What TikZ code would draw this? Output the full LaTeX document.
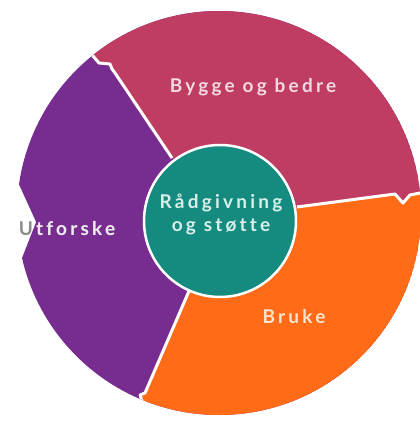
\documentclass[tikz,border=0pt]{standalone}
\usepackage{fontspec}
\newfontfamily\lbl[LetterSpace=17, Ligatures=NoCommon]{Lato}
\definecolor{cpurple}{HTML}{772C8F}
\definecolor{ccrimson}{HTML}{BF3D63}
\definecolor{corange}{HTML}{FF6B17}
\definecolor{cteal}{HTML}{158B80}
\definecolor{tcrimson}{HTML}{F5D8E2}
\definecolor{tteal}{HTML}{D8EFEA}
\definecolor{torange}{HTML}{FCE4CE}
\definecolor{tpurple}{HTML}{F2E8F5}
\definecolor{tgray}{HTML}{8C8C8C}
\tikzset{
  sep/.style={draw=white, line width=3pt, line join=round},
  label/.style={font=\lbl\bfseries\fontsize{19}{23}\selectfont, inner sep=0pt, align=center},
}
\begin{document}
\begin{tikzpicture}[x=1pt,y=-1pt]
\useasboundingbox (0,0) rectangle (420,423);
\coordinate (O) at (219,213);
% ring of three segments, cut to the outer disc
\begin{scope}
  \clip (O) circle (202pt);
  \fill[cpurple] (O) circle (202pt);
  \fill[ccrimson] (220,220) -- (172,158) -- (115,73) -- (112,69) -- (110,64) -- (99,63)
    -- (93,56) -- (60,18) -- (60,-20) -- (480,-20) -- (480,192) -- (420,193)
    -- (410,195) -- (403,203) -- (395,194) -- (297,207) -- cycle;
  \fill[corange] (220,220) -- (297,207) -- (395,194) -- (403,203) -- (410,195)
    -- (420,193) -- (480,192) -- (480,480) -- (148,480) -- (146,404) -- (142,401)
    -- (140,395) -- (145,393) -- (189,291) -- cycle;
  % white seams between the segments
  \draw[sep] (172,158) -- (115,73) -- (112,69) -- (110,64) -- (99,63) -- (93,56) -- (60,18);
  \draw[sep] (297,207) -- (395,194) -- (403,203) -- (410,195) -- (420,193) -- (480,192);
  \draw[sep] (189,291) -- (145,393) -- (140,395) -- (142,401) -- (146,404) -- (148,480);
\end{scope}
% notch cut into the left rim
\fill[white] (-5,170) -- (15,176) -- (36,222) -- (18,268) -- (-5,276) -- cycle;
% central hub
\node[circle, fill=cteal, draw=white, line width=2.5pt, minimum size=152pt, inner sep=0pt] (hub) at (220,221) {};
\node[label, text=tteal] (hubtext) at (221,214) {Rådgivning\\og støtte};
\node[label, text=tcrimson] (bygge) at (253,87) {Bygge og bedre};
\node[label, text=torange] (bruke) at (294,317) {Bruke};
% left label: grey where it runs over the notch, light on the purple
\node[label, text=tgray] (utgray) at (67,229) {Utforske};
\begin{scope}
  \clip (15,176) -- (36,222) -- (18,268) -- (150,268) -- (150,176) -- cycle;
  \node[label, text=tpurple] (utlight) at (67,229) {Utforske};
\end{scope}
\end{tikzpicture}
\end{document}
